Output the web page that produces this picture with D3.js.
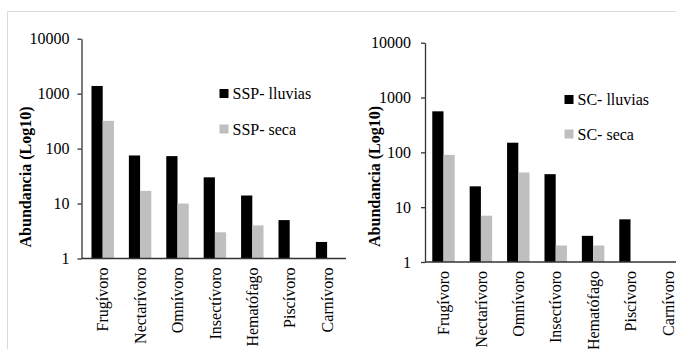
<!DOCTYPE html>
<html>
<head>
<meta charset="utf-8">
<script src="https://cdn.jsdelivr.net/npm/d3@7"></script>
<style>
  html, body { margin: 0; padding: 0; background: #fff; }
  svg { display: block; }
</style>
</head>
<body>
<svg id="chart" width="676" height="349"></svg>
<script>
// ---- Data ----
const categories = ["Frugívoro", "Nectarívoro", "Omnívoro", "Insectívoro", "Hematófago", "Piscívoro", "Carnívoro"];
const sspLluvias = [1380, 75, 73, 30, 14, 5, 2];
const sspSeca    = [320, 17, 10, 3, 4, null, null];
const scLluvias  = [560, 24, 150, 40, 3, 6, null];
const scSeca     = [90, 7, 43, 2, 2, null, null];
const yTicks = [1, 10, 100, 1000, 10000];
const seriesNamesLeft  = ["SSP- lluvias", "SSP- seca"];
const seriesNamesRight = ["SC- lluvias", "SC- seca"];
const colors = ["#000000", "#bfbfbf"];
const FONT = '"Liberation Serif", monospace';

const svg = d3.select("#chart");

// outer light frame
svg.append("line").attr("x1", 7.5).attr("x2", 676).attr("y1", 11.5).attr("y2", 11.5)
  .attr("stroke", "#d9d9d9").attr("stroke-width", 1);
svg.append("line").attr("x1", 7.5).attr("x2", 7.5).attr("y1", 11.5).attr("y2", 349)
  .attr("stroke", "#d9d9d9").attr("stroke-width", 1);

function drawPanel(cfg) {
  const g = svg.append("g");
  const y = d3.scaleLog().domain([1, 10000]).range([cfg.yBottom, cfg.yTop]);
  const step = 37.4;
  const x = d3.scaleBand().domain(categories)
    .range([cfg.bandStart, cfg.bandStart + step * categories.length])
    .paddingInner(0.4).paddingOuter(0.2);
  const xs = d3.scaleBand().domain([0, 1]).range([0, x.bandwidth()]);

  // bars
  cfg.series.forEach((vals, si) => {
    g.append("g").selectAll("rect")
      .data(vals.map((v, i) => ({ c: categories[i], v })).filter(d => d.v != null && d.v > 1))
      .join("rect")
      .attr("x", d => x(d.c) + xs(si))
      .attr("width", xs.bandwidth())
      .attr("y", d => y(d.v))
      .attr("height", d => y(1) - y(d.v))
      .attr("fill", colors[si]);
  });

  // y axis
  const yAxis = d3.axisLeft(y).tickValues(yTicks).tickFormat(d3.format("d"))
    .tickSize(4).tickPadding(cfg.tickPad).tickSizeOuter(0);
  const ya = g.append("g").attr("transform", `translate(${cfg.axisX},0)`).call(yAxis);
  ya.attr("font-family", null).attr("font-size", null);
  ya.select(".domain").attr("stroke", "#333").attr("stroke-width", 1.3);
  ya.selectAll(".tick line").attr("stroke", "#333").attr("stroke-width", 1.3);
  ya.selectAll(".tick text").style("font-size", "16px").attr("fill", "#000")
    .style("font-family", FONT);

  // x axis baseline
  g.append("line").attr("x1", cfg.axisX).attr("x2", cfg.xEnd)
    .attr("y1", y(1)).attr("y2", y(1)).attr("stroke", "#333").attr("stroke-width", 1.3);

  // x labels
  g.append("g").selectAll("text").data(categories).join("text")
    .attr("transform", d => `translate(${x(d) + x.bandwidth() / 2},${y(1) + 9}) rotate(-90)`)
    .attr("text-anchor", "end")
    .attr("dy", "0.35em")
    .style("font-family", FONT)
    .style("font-size", "16px")
    .text(d => d);

  // y title
  g.append("text")
    .attr("transform", `translate(${cfg.titleX},${cfg.titleY}) rotate(-90)`)
    .attr("text-anchor", "middle")
    .style("font-family", FONT)
    .style("font-size", "16px").style("font-weight", "bold")
    .text("Abundancia (Log10)");

  // legend
  cfg.names.forEach((n, i) => {
    const by = cfg.legY + i * cfg.legStep;
    g.append("rect").attr("x", cfg.legX).attr("y", by - 10).attr("width", 9).attr("height", 9)
      .attr("fill", colors[i]);
    g.append("text").attr("x", cfg.legX + 13).attr("y", by)
      .style("font-family", FONT)
      .style("font-size", "16px").text(n);
  });
}

drawPanel({
  series: [sspLluvias, sspSeca], names: seriesNamesLeft,
  yTop: 38.7, yBottom: 258.5, axisX: 81.5, bandStart: 84, xEnd: 346,
  tickPad: 8, titleX: 31, titleY: 177,
  legX: 219.5, legY: 99, legStep: 35.5
});
drawPanel({
  series: [scLluvias, scSeca], names: seriesNamesRight,
  yTop: 42.7, yBottom: 262, axisX: 425, bandStart: 424.8, xEnd: 676,
  tickPad: 10, titleX: 380, titleY: 176.5,
  legX: 564.5, legY: 105, legStep: 34.5
});
</script>
</body>
</html>
